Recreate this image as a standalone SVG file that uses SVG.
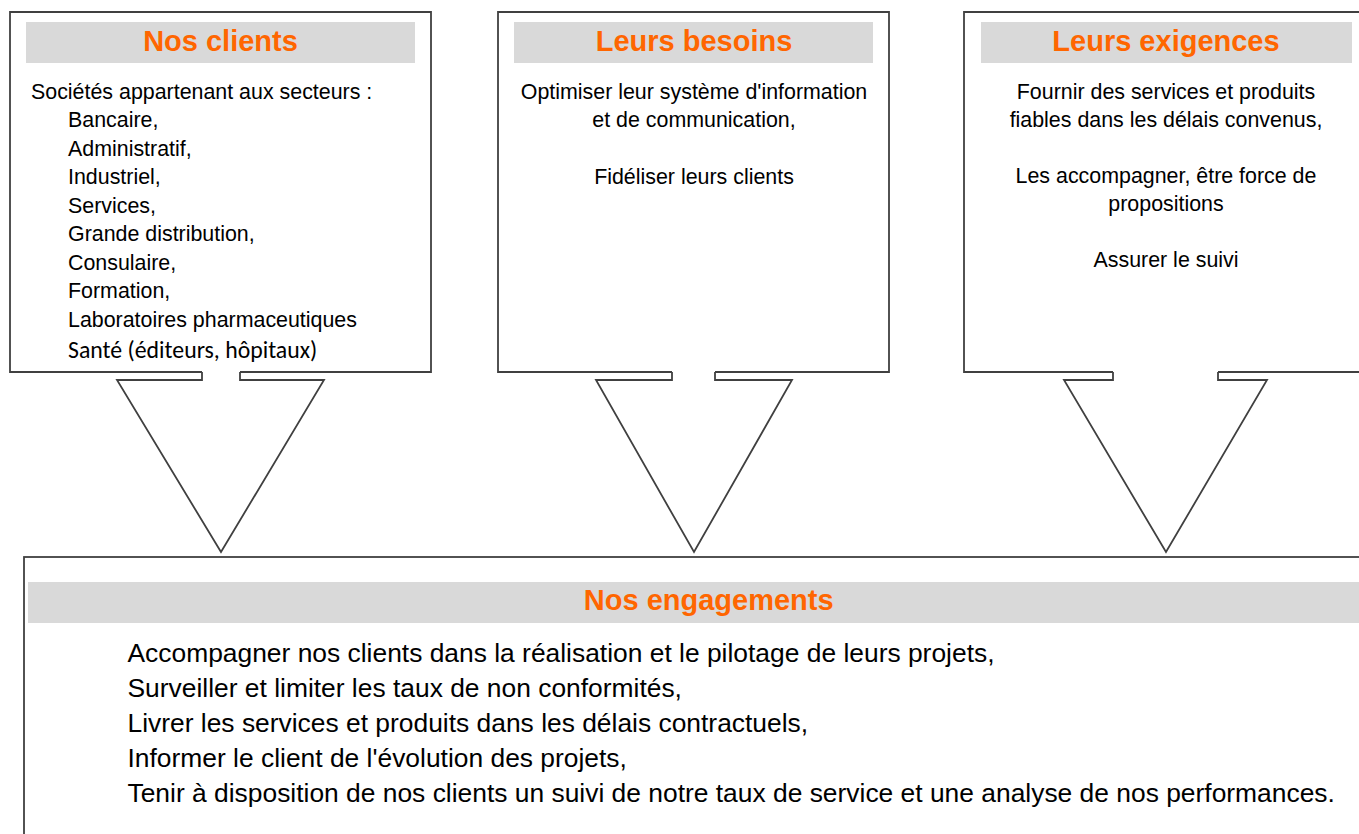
<svg xmlns="http://www.w3.org/2000/svg" width="1359" height="834" viewBox="0 0 1359 834">
<style>
.box{fill:none;stroke:#404040;stroke-width:1.8;stroke-linejoin:miter}
.bar{fill:#d9d9d9}
.title{font-family:"Liberation Sans",Arial,sans-serif;font-weight:bold;font-size:29px;fill:#ff6600;text-anchor:middle}
.t{font-family:"Liberation Sans",Arial,sans-serif;font-size:21.4px;fill:#000}
.c{text-anchor:middle}
.cal{font-family:Carlito,Lato,"Open Sans",sans-serif;font-size:23.8px;fill:#000}
.big{font-family:"Liberation Sans",Arial,sans-serif;font-size:26.4px;fill:#000}
.arrow{fill:none;stroke:#404040;stroke-width:1.8;stroke-linejoin:miter}
</style>
<rect width="1359" height="834" fill="#fff"/>
<g id="connectors">
<polyline class="arrow" points="202,372 202,380 117,380 221,552 324,380 240,380 240,372"/>
<polyline class="arrow" points="672,372 672,380 596,380 694,552 792,380 715,380 715,372"/>
<polyline class="arrow" points="1113,372 1113,380 1064,380 1166,552 1267,380 1218,380 1218,372"/>
</g>
<g id="clients">
<path class="box" d="M202,372 H10 V12 H431 V372 H240"/>
<rect class="bar" x="26" y="22" width="389" height="41"/>
<text class="title" x="220.5" y="50.5">Nos clients</text>
<text class="t" x="31" y="99">Sociétés appartenant aux secteurs :</text>
<text class="t" x="68" y="127">Bancaire,</text>
<text class="t" x="68" y="155.5">Administratif,</text>
<text class="t" x="68" y="184">Industriel,</text>
<text class="t" x="68" y="212.5">Services,</text>
<text class="t" x="68" y="241">Grande distribution,</text>
<text class="t" x="68" y="269.5">Consulaire,</text>
<text class="t" x="68" y="298">Formation,</text>
<text class="t" x="68" y="326.5">Laboratoires pharmaceutiques</text>
<text class="cal" x="68" y="357.5">Santé (éditeurs, hôpitaux)</text>
</g>
<g id="besoins">
<path class="box" d="M672,372 H498 V12 H889 V372 H715"/>
<rect class="bar" x="514" y="22" width="359" height="41"/>
<text class="title" x="694" y="50.5">Leurs besoins</text>
<text class="t c" x="694" y="99">Optimiser leur système d'information</text>
<text class="t c" x="694" y="127">et de communication,</text>
<text class="t c" x="694" y="184">Fidéliser leurs clients</text>
</g>
<g id="exigences">
<path class="box" d="M1113,372 H964 V12 H1368 V372 H1218"/>
<rect class="bar" x="981" y="22" width="371" height="41"/>
<text class="title" x="1166" y="50.5">Leurs exigences</text>
<text class="t c" x="1166" y="99">Fournir des services et produits</text>
<text class="t c" x="1166" y="127">fiables dans les délais convenus,</text>
<text class="t c" x="1166" y="183">Les accompagner, être force de</text>
<text class="t c" x="1166" y="211">propositions</text>
<text class="t c" x="1166" y="267">Assurer le suivi</text>
</g>
<g id="engagements">
<rect class="box" x="24" y="557" width="1370" height="300"/>
<rect class="bar" x="28" y="582" width="1362" height="41"/>
<text class="title" x="708.7" y="609.5">Nos engagements</text>
<text class="big" x="127.5" y="662">Accompagner nos clients dans la réalisation et le pilotage de leurs projets,</text>
<text class="big" x="127.5" y="697">Surveiller et limiter les taux de non conformités,</text>
<text class="big" x="127.5" y="732">Livrer les services et produits dans les délais contractuels,</text>
<text class="big" x="127.5" y="767">Informer le client de l'évolution des projets,</text>
<text class="big" x="127.5" y="801.5">Tenir à disposition de nos clients un suivi de notre taux de service et une analyse de nos performances.</text>
</g>
</svg>
